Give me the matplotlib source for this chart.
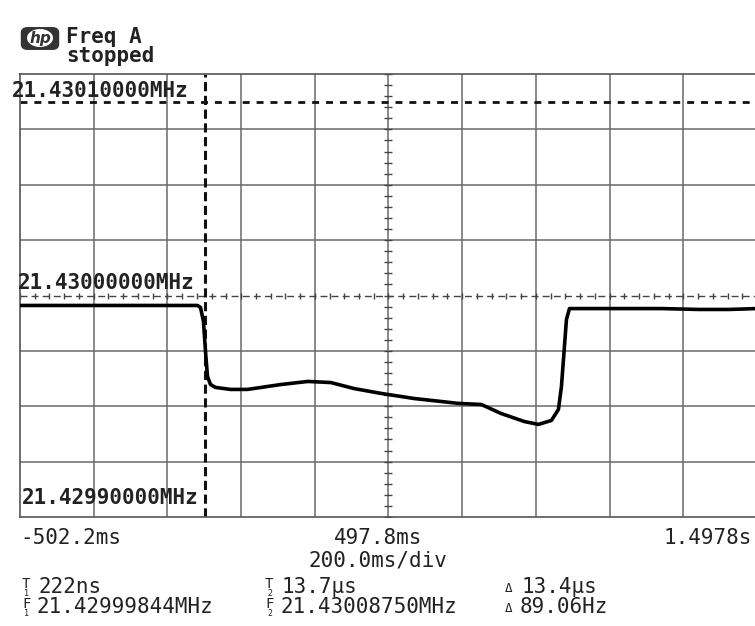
import numpy as np
import matplotlib.pyplot as plt
from matplotlib.patches import FancyBboxPatch, Ellipse

# frequency trace, time in ms, frequency as Hz offset from 21.43 MHz
t_ms = [-502.2, -20.6, -12.4, -4.3, 1.2, 6.6, 14.8, 28.4, 69.2, 115.5, 205.3,
        278.7, 341.3, 403.9, 477.4, 567.2, 686.9, 749.5, 803.9, 866.5, 904.6,
        940.0, 959.0, 967.1, 972.6, 980.7, 988.9, 1021.5, 1095.0, 1239.2,
        1340.0, 1421.6, 1497.8]
f_hz = [-4.5, -4.5, -5.4, -11.7, -25.3, -36.6, -40.2, -41.5, -42.4, -42.4, -40.2,
        -38.8, -39.3, -42.0, -44.2, -46.5, -48.7, -49.2, -53.3, -56.9, -58.2,
        -56.4, -51.4, -41.1, -28.9, -10.8, -5.9, -5.9, -5.9, -5.9,
        -6.3, -6.3, -5.9]

t_start, t_div, n_xdiv = -502.2, 200.0, 10
f_div, n_ydiv = 25.0, 8
cursor_t = 0.0          # T1 = 222 ns
cursor_f = 87.5         # F2 = 21.43008750 MHz

ylabels = ['21.43010000MHz', '21.43000000MHz', '21.42990000MHz']
xlabels = ['-502.2ms', '497.8ms', '1.4978s']
scale_label = '200.0ms/div'
readout_t = ['222ns', '13.7\u00b5s', '13.4\u00b5s']
readout_f = ['21.42999844MHz', '21.43008750MHz', '89.06Hz']

W, H = 755, 626
mono = ['DejaVu Sans Mono', 'DejaVu Sans']
fig = plt.figure(figsize=(W / 100, H / 100), dpi=100)
fig.patch.set_facecolor('white')

def px(x, y):
    return x / W, 1 - y / H

ax = fig.add_axes([20 / W, 1 - 517 / H, 737 / W, 443 / H])
t_end = t_start + n_xdiv * t_div
ax.set_xlim(t_start, t_end)
ax.set_ylim(-n_ydiv / 2 * f_div, n_ydiv / 2 * f_div)
ax.set_xticks([])
ax.set_yticks([])
for s in ax.spines.values():
    s.set_color('#555555')
    s.set_linewidth(1.2)

gc = '#6a6a6a'
for i in range(1, n_xdiv):
    ax.axvline(t_start + i * t_div, color=gc, lw=1.1, zorder=1)
for j in range(1, n_ydiv):
    if j == n_ydiv // 2:
        continue
    ax.axhline(-n_ydiv / 2 * f_div + j * f_div, color=gc, lw=1.1, zorder=1)

# centre graticule with minor ticks
tc = t_start + n_xdiv / 2 * t_div
ax.axhline(0, color='#444444', lw=1.0, ls=(0, (5, 3)), zorder=1)
xt = np.arange(t_start, t_end + 1, t_div / 5)
ax.plot(xt, np.zeros_like(xt), '|', ms=5, color='#444444', mew=1, zorder=1)
yt = np.arange(-100, 101, f_div / 5)
ax.plot(np.full_like(yt, tc), yt, '_', ms=6, color='#444444', mew=1, zorder=1)

# cursors
ax.axvline(cursor_t, color='#111111', lw=2.2, ls=(0, (3, 1.5)), zorder=2)
ax.axhline(cursor_f, color='#111111', lw=2.0, ls=(0, (2.5, 2.5)), zorder=2)

# trace
ax.plot(t_ms, f_hz, color='black', lw=2.6, solid_joinstyle='round', zorder=3)

# in-screen frequency labels
for lab, (x, y) in zip(ylabels, [(12, 91), (18, 283), (22, 498)]):
    fig.text(*px(x, y), lab, family=mono, fontsize=15, fontweight='bold',
             color='#222222', ha='left', va='center')

# header with logo
fig.patches.append(FancyBboxPatch((23 / W, 1 - 48 / H), 34 / W, 19 / H,
                                  boxstyle='round,pad=0.002,rounding_size=0.008',
                                  transform=fig.transFigure, facecolor='#333333',
                                  edgecolor='#333333'))
fig.patches.append(Ellipse((40 / W, 1 - 38 / H), 26 / W, 18 / H,
                           transform=fig.transFigure, facecolor='white',
                           edgecolor='none'))
fig.text(*px(40, 38), 'hp', fontsize=11, style='italic', fontweight='bold',
         color='#333333', ha='center', va='center')
fig.text(*px(66, 37), 'Freq A', family=mono, fontsize=15, fontweight='bold',
         color='#222222', ha='left', va='center')
fig.text(*px(66, 56), 'stopped', family=mono, fontsize=15, fontweight='bold',
         color='#222222', ha='left', va='center')

# time axis labels
fig.text(*px(20, 538), xlabels[0], family=mono, fontsize=15, color='#222222',
         ha='left', va='center')
fig.text(*px(378, 538), xlabels[1], family=mono, fontsize=15, color='#222222',
         ha='center', va='center')
fig.text(*px(752, 538), xlabels[2], family=mono, fontsize=15, color='#222222',
         ha='right', va='center')
fig.text(*px(378, 561), scale_label, family=mono, fontsize=15, color='#222222',
         ha='center', va='center')

# cursor readouts
cols = [22, 265, 505]
syms = [('T', '1'), ('T', '2'), ('\u0394', '')]
for k, x in enumerate(cols):
    s, sub = syms[k]
    if sub:
        fig.text(*px(x, 584), s, family=mono, fontsize=10, color='#222222',
                 ha='left', va='center')
        fig.text(*px(x + 2, 594), sub, family=mono, fontsize=6, color='#222222',
                 ha='left', va='center')
        fs = 'F'
        fig.text(*px(x, 604), fs, family=mono, fontsize=10, color='#222222',
                 ha='left', va='center')
        fig.text(*px(x + 2, 614), sub, family=mono, fontsize=6, color='#222222',
                 ha='left', va='center')
    else:
        fig.text(*px(x, 589), s, family=mono, fontsize=9, color='#222222',
                 ha='left', va='center')
        fig.text(*px(x, 608), s, family=mono, fontsize=9, color='#222222',
                 ha='left', va='center')
    fig.text(*px(x + 17, 587), readout_t[k], family=mono, fontsize=15,
             color='#222222', ha='left', va='center')
    fig.text(*px(x + 15, 607), readout_f[k], family=mono, fontsize=15,
             color='#222222', ha='left', va='center')

fig.savefig('out.png', dpi=100)
